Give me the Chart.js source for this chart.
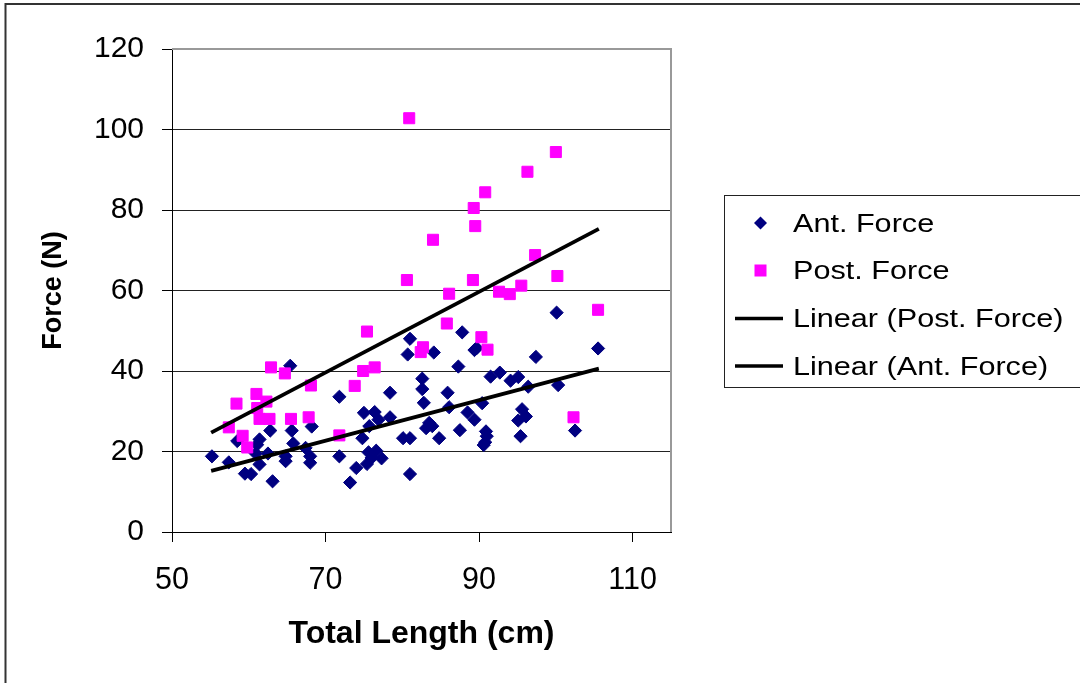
<!DOCTYPE html>
<html>
<head>
<meta charset="utf-8">
<script src="https://cdn.jsdelivr.net/npm/chart.js@4/dist/chart.umd.min.js"></script>
<style>
html,body{margin:0;padding:0;background:#fff;}
canvas{display:block;}
</style>
</head>
<body>
<canvas id="c" width="1080" height="683"></canvas>
<script>
// ---- data ----
const antLength = [55.2,57.4,58.5,59.5,60.3,60.9,61.1,61.4,61.4,62.5,62.8,63.1,64.8,64.8,65.4,65.6,65.8,67.4,68.0,68.0,68.2,71.8,71.8,73.2,74.0,74.8,75.0,75.4,75.6,75.7,76.0,76.4,76.6,76.9,77.3,78.4,78.4,80.1,80.7,81.0,81.0,81.0,82.6,82.6,82.8,83.1,83.5,83.9,84.1,84.8,85.9,86.1,87.3,87.5,87.8,88.5,89.4,89.7,89.4,90.4,90.9,91.0,90.8,90.6,91.5,92.7,94.1,95.1,95.6,95.1,96.1,95.4,96.4,97.4,100.1,100.3,102.5,105.5];
const antForce  = [18.8,17.3,22.6,14.5,14.4,19.5,21.7,23.0,16.8,19.5,25.2,12.6,18.8,17.6,41.3,25.2,22.0,20.9,18.8,17.2,26.2,33.6,18.8,12.3,15.9,23.3,29.6,16.9,19.8,26.3,18.4,29.8,20.2,27.9,18.3,34.6,28.5,23.3,44.1,48.0,23.3,14.4,38.1,35.5,32.1,25.8,27.1,26.3,44.6,23.3,34.6,31.0,41.1,25.3,49.6,29.7,45.2,45.7,27.9,32.0,25.0,23.8,22.3,21.6,38.6,39.6,37.6,38.5,30.5,27.7,28.7,23.8,36.1,43.5,54.5,36.5,25.2,45.6];

const postLength = [57.4,58.4,59.2,59.8,61.0,61.1,61.4,62.3,62.7,62.9,64.7,65.5,67.8,68.1,71.8,73.8,74.9,75.4,76.4,80.6,80.9,82.4,82.7,84.0,85.8,86.1,89.2,89.3,89.5,90.3,90.8,91.1,92.6,94.0,95.5,96.3,97.3,100.0,100.2,102.3,105.5];
const postForce  = [26.0,31.9,23.9,21.0,34.3,30.8,28.1,32.4,28.1,40.9,39.4,28.1,28.5,36.4,24.0,36.3,40.0,49.8,40.9,62.6,102.8,44.7,45.9,72.6,51.8,59.2,62.6,80.5,76.0,48.4,84.4,45.3,59.7,59.1,61.2,89.5,68.8,94.4,63.6,28.5,55.2];

// Excel linear trendline end points
const trendLength   = [55.1, 105.6];
const postTrendLine = [24.7, 75.3];
const antTrendLine  = [15.2, 40.6];

const seriesLabels = ['Ant. Force','Post. Force','Linear (Post. Force)','Linear (Ant. Force)'];
const xTickLabels = [50,70,90,110];
const yTickLabels = [0,20,40,60,80,100,120];
const xTitle = 'Total Length (cm)';
const yTitle = 'Force (N)';

// ---- build ----
const pts = (xs, ys) => xs.map((x,i)=>({x:x, y:ys[i]}));
const FONT = "'Liberation Sans', Arial, sans-serif";
Chart.defaults.font.family = FONT;
Chart.defaults.color = '#000';

const NAVY = '#000080', MAG = '#FF00FF';

const frame = {
  id:'frame',
  beforeDraw(chart){
    const ctx = chart.ctx;
    ctx.save();
    ctx.fillStyle = '#fff';
    ctx.fillRect(0,0,chart.width,chart.height);
    ctx.restore();
  },
  afterDatasetsDraw(chart){
    const ctx = chart.ctx, a = chart.chartArea;
    ctx.save();
    ctx.strokeStyle = '#999';
    ctx.lineWidth = 2;
    ctx.beginPath();
    ctx.moveTo(a.left, a.top); ctx.lineTo(a.right, a.top); ctx.lineTo(a.right, a.bottom);
    ctx.stroke();
    ctx.restore();
  },
  afterDraw(chart){
    const ctx = chart.ctx;
    ctx.save();
    // outer chart border
    ctx.strokeStyle = '#333';
    ctx.lineWidth = 2;
    ctx.strokeRect(5.5, 4, 1200, 800);
    // legend box
    ctx.strokeStyle = '#222';
    ctx.lineWidth = 1;
    ctx.fillStyle = '#fff';
    ctx.fillRect(724.5, 195.5, 400, 192);
    ctx.strokeRect(724.5, 195.5, 400, 192);
    const ds = chart.data.datasets;
    const rows = [223, 270.5, 318.5, 366];
    [0,1,2,3].forEach((di, r) => {
      const d = ds[di];
      const y = rows[r];
      const mx = 760.5;
      if (d.pointStyle === 'rectRot') {
        ctx.fillStyle = d.backgroundColor;
        ctx.beginPath();
        ctx.moveTo(mx, y-6.5); ctx.lineTo(mx+6.5, y); ctx.lineTo(mx, y+6.5); ctx.lineTo(mx-6.5, y);
        ctx.closePath(); ctx.fill();
      } else if (d.pointStyle === 'rect') {
        ctx.fillStyle = d.backgroundColor;
        ctx.fillRect(mx-6, y-6, 12, 12);
      } else {
        ctx.strokeStyle = d.borderColor;
        ctx.lineWidth = 3.5;
        ctx.beginPath(); ctx.moveTo(735, y); ctx.lineTo(783, y); ctx.stroke();
      }
      ctx.save();
      ctx.fillStyle = '#000';
      ctx.font = "25.5px " + FONT;
      ctx.textBaseline = 'alphabetic';
      ctx.translate(793, y + 8.8);
      ctx.scale(1.2, 1);
      ctx.fillText(d.label, 0, 0);
      ctx.restore();
    });
    ctx.restore();
  }
};

new Chart(document.getElementById('c'), {
  type: 'scatter',
  data: {
    datasets: [
      { label: seriesLabels[0], data: pts(antLength, antForce), pointStyle:'rectRot', pointRadius:6.6, pointHoverRadius:6.6,
        backgroundColor: NAVY, borderColor: NAVY, borderWidth:1, order:3 },
      { label: seriesLabels[1], data: pts(postLength, postForce), pointStyle:'rect', pointRadius:7.8, pointHoverRadius:7.8,
        backgroundColor: MAG, borderColor: MAG, borderWidth:1, order:2 },
      { type:'line', label: seriesLabels[2], data: pts(trendLength, postTrendLine), showLine:true, pointRadius:0,
        borderColor:'#000', borderWidth:3.8, fill:false, order:0 },
      { type:'line', label: seriesLabels[3], data: pts(trendLength, antTrendLine), showLine:true, pointRadius:0,
        borderColor:'#000', borderWidth:3.8, fill:false, order:1 }
    ]
  },
  options: {
    responsive:false, animation:false, devicePixelRatio:1,
    layout:{ padding:{ left:0, right:409, top:49, bottom:0 } },
    plugins:{ legend:{ display:false }, tooltip:{ enabled:false } },
    scales:{
      x:{
        type:'linear', min:50, max:115,
        afterBuildTicks: s => { s.ticks = xTickLabels.map(v => ({value:v})); },
        afterFit: s => { s.height = 151; },
        ticks:{ font:{ size:30.5 }, padding:20, maxRotation:0, color:'#000' },
        grid:{ drawOnChartArea:false, drawTicks:true, tickLength:10, tickColor:'#000' },
        border:{ display:true, color:'#000', width:1 },
        title:{ display:true, text:xTitle, font:{ size:32, weight:'bold' }, padding:{ top:0, bottom:30 }, color:'#000' }
      },
      y:{
        type:'linear', min:0, max:120,
        afterBuildTicks: s => { s.ticks = yTickLabels.map(v => ({value:v})); },
        afterFit: s => { s.width = 172; },
        ticks:{ font:{ size:30 }, padding:18, color:'#000' },
        grid:{ color: c => (c.tick && c.tick.value === 120) ? 'rgba(0,0,0,0)' : '#222', lineWidth:1, drawTicks:true, tickLength:10, tickColor:'#000' },
        border:{ display:true, color:'#000', width:1 },
        title:{ display:true, text:yTitle, font:{ size:27, weight:'bold' }, padding:{ top:37, bottom:0 }, color:'#000' }
      }
    }
  },
  plugins:[frame]
});
</script>
</body>
</html>
